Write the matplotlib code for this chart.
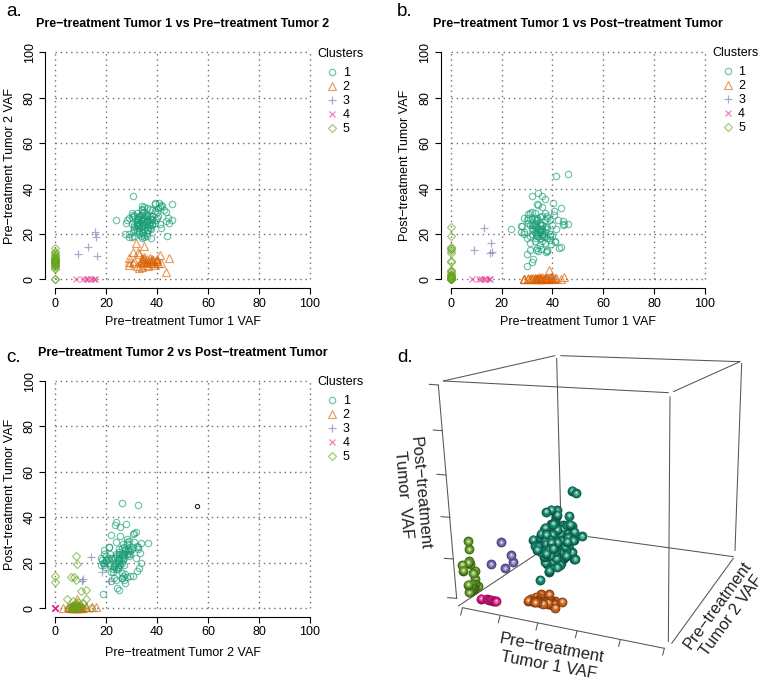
import numpy as np
import matplotlib
matplotlib.use("Agg")
import matplotlib.pyplot as plt
from matplotlib.lines import Line2D

plt.rcParams['font.family'] = ['Liberation Sans', 'DejaVu Sans']
plt.rcParams['lines.scale_dashes'] = False

# ---------- data: VAF per mutation, by cluster ----------
c1_pre1 = [46,41.5,23.8,30,32.2,32,30,32,34.5,36,37,40.3,34,34.2,36,43.3,40.5,40.7,46,30.5,44,44.2,44.5,41.5,42.5,43.5,41,27.8,28,29,27.5,29,31,39,39,42,30.5,31,32,33,34,35,37,38,39,40,36,38,30,30.5,31,29,30,31,31,32,33,33.5,34,35,36,37.5,38,38,33,33.5,34,34.5,35,35.5,36,36.5,37,33,33.5,34,34.5,35,35.5,36,36.5,37,38,39,39.5,41,40,32,32.5,33,33.5,34,35,36,37,38,32,32.5,33,34,35,36,37,35,34,36,35,34.5,36.5,37.5,33,32]
c1_pre2 = [26.3,32.6,26.1,18.8,24.2,25.2,27.5,23.5,23.8,27.8,25.3,31.5,30.8,30.6,21.8,25.5,28,33.5,33.3,36.5,19,27,25,22.5,30.5,29.5,32,25,26,20,20,18.8,19,33.5,33,32.5,21,24,29,28,32.5,32,31,30.5,30,29.5,31.5,28,29.3,28.5,28,27,24.5,22,23,21.5,20,19,18,18.5,19,22,24,26,22.5,23,23.5,24,24.5,25,25.5,26,26.5,25,26,26.5,27,27.5,28,24,23,22.5,24.5,25,26,24.5,27,27,26.5,27.5,28.5,29,29.5,28.5,27.5,26.5,24.5,23.5,24,25,25.5,26.5,24,22,21,20.5,19.5,20.5,21.5,18,21,26]
c1_post = [46.3,45.5,22,6,9,7.8,11,36.7,38,36.8,35.5,33.7,33,32.6,32,31.5,30.2,28.5,24.2,28.8,25.5,24,24.5,22,14,14.2,16.5,23.7,23.5,21,21,20,19,20,17.5,26,27,29,29.5,29,27,27.5,29,27,26,24,22,28,26,25,24,27,18,16,13,24,23,20,19,21,24,12,12.5,13,17,18,19,20,21,22,19,20,21,21,13,14,12.5,15,13.5,17,18.5,16,18,19,15.5,17,19,22,24,25,26,23,25,24,26,23,20,22,24,26,24,28,23,22,21,20,18,22,19,22,27,26.5]

c2_pre1 = [31.5,35,30.5,32.5,29,29,33,34,41,44.5,43.5,41.5,38.5,39.5,34.8,33,34,34,33.5,34.5,35,35.5,36,36.5,37,37.5,38,38.5,39,40,40.5,40,35,36,37,31,30.5,32,38,28.8]
c2_pre2 = [16,14.5,12,12,9.5,6.5,5,5.5,10.5,9.5,3.2,7,8.5,8,9,11,9.5,8.5,7.5,7,8,6.5,7.5,6,8,7,9,7,6.5,8,7,9,10,9,9.5,8,7,6,8,7.5]
c2_post = [0.5,0.3,0.4,0.4,0.2,0.3,0.6,0.5,0.5,1,0.2,0.4,4,1.2,1.2,0,0.2,0,0.3,0.2,0.5,0,0.8,0.1,0.3,0.6,0,0.2,0.7,0.2,0,0.5,0.1,0.2,0.4,0,0,0.2,0.5,0.1]

c3_pre1 = [13,9,16,15.5,16.4]
c3_pre2 = [14.2,11,18.5,21,10.3]
c3_post = [22.6,12.8,15.8,11.7,12]

c4_pre1 = [8.3,11,12,13,14,15.2,15.5]
c4_pre2 = [0,0,0,0,0,0,0]
c4_post = [0,0,0,0,0,0,0]

c5_pre2 = [0,0,8,8.5,6.3,7.5,8,10,12,4.5,12,7,9,11,8,6,7,8.5,9.5,10,7.5,6.5,8,9,7,8,10.5,14,5,6,8]
c5_post = [14.2,11.5,23,19.2,13.5,13.8,12.3,7.5,8,3.8,4,3,2.5,2,1,0.5,0,0,0.3,0,0.5,0.2,0.2,0.8,1.5,2,0.5,0.2,0,0,0]
c5_pre1 = [0]*len(c5_pre2)

stray_pre2 = [55.5]
stray_post = [45]

clusters = [
    ("1", c1_pre1, c1_pre2, c1_post),
    ("2", c2_pre1, c2_pre2, c2_post),
    ("3", c3_pre1, c3_pre2, c3_post),
    ("4", c4_pre1, c4_pre2, c4_post),
    ("5", c5_pre1, c5_pre2, c5_post),
]
ticks = [0, 20, 40, 60, 80, 100]

# ---------- style ----------
W, H = 770, 686
colors = ['#1B9E77', '#D95F02', '#7570B3', '#E7298A', '#66A61E']
markers = ['o', '^', '+', 'x', 'D']
msizes = [4.6, 5.6, 6.4, 4.6, 3.9]
ALPHA = 0.62
FS = 9.0

fig = plt.figure(figsize=(W/100, H/100), dpi=100)


def panel(x0, x100, y100, y0, xcol, ycol, title, title_xy, xlabel, ylabel, letter, letter_xy,
          leg_xy, xlab_y, ylab_x):
    xp = (x100 - x0) / 100
    yp = (y0 - y100) / 100
    l, r = x0 - 4*xp, x100 + 4*xp
    t, b = y100 - 4*yp, y0 + 4*yp
    ax = fig.add_axes([l/W, 1 - b/H, (r - l)/W, (b - t)/H])
    ax.set_xlim(-4, 104)
    ax.set_ylim(-4, 104)
    ax.patch.set_alpha(0)
    dots = [(0, (1.0, 2.75))]
    ax.hlines(ticks, 0, 100, colors='#6e6e6e', lw=1.0, linestyles=dots, zorder=1)
    ax.vlines(ticks, 0, 100, colors='#6e6e6e', lw=1.0, linestyles=dots, zorder=1)
    handles = []
    for i, cl in enumerate(clusters):
        ax.plot(cl[xcol], cl[ycol], ls='none', marker=markers[i], ms=msizes[i], mfc='none',
                mec=colors[i], mew=0.85, alpha=ALPHA, zorder=3)
        handles.append(Line2D([], [], ls='none', marker=markers[i], ms=msizes[i], mfc='none',
                              mec=colors[i], mew=0.85, alpha=ALPHA, label=cl[0]))
    for s in ('top', 'right'):
        ax.spines[s].set_visible(False)
    for s in ('left', 'bottom'):
        ax.spines[s].set_bounds(0, 100)
        ax.spines[s].set_linewidth(0.8)
    ax.set_xticks(ticks)
    ax.set_yticks(ticks)
    ax.tick_params(length=4.2, width=0.8, labelsize=FS, pad=2.5)
    for lb in ax.get_yticklabels():
        lb.set_rotation(90)
        lb.set_va('center')
    ax.set_xlabel(xlabel, fontsize=FS, va='center')
    ax.set_ylabel(ylabel, fontsize=FS, va='center')
    ax.xaxis.set_label_coords(0.5, (b - xlab_y)/(b - t))
    ax.yaxis.set_label_coords((ylab_x - l)/(r - l), 0.5)
    fig.text(title_xy[0]/W, 1 - title_xy[1]/H, title, fontsize=9.0, fontweight='bold',
             ha='center', va='center')
    fig.text(letter_xy[0]/W, 1 - letter_xy[1]/H, letter, fontsize=13.5, ha='left', va='center')
    leg = ax.legend(handles=handles, title='Clusters', loc='upper left', frameon=False,
                    bbox_to_anchor=(leg_xy[0]/W, 1 - leg_xy[1]/H), bbox_transform=fig.transFigure,
                    borderpad=0, borderaxespad=0, fontsize=FS, title_fontsize=FS,
                    handlelength=2.4, handletextpad=-0.35, labelspacing=0.16, numpoints=1)
    leg._legend_box.align = 'left'
    leg._legend_box.sep = 5
    return ax


LAB1 = 'Pre\u2212treatment Tumor 1 VAF'
LAB2 = 'Pre\u2212treatment Tumor 2 VAF'
LABP = 'Post\u2212treatment Tumor VAF'

panel(55.3, 310, 52.3, 279.3, 1, 2, 'Pre\u2212treatment Tumor 1 vs Pre\u2212treatment Tumor 2', (182.8, 24.3),
      LAB1, LAB2, 'a.', (6, 11), (317, 48), 322, 10)
panel(450.7, 705, 52.3, 279.3, 1, 3, 'Pre\u2212treatment Tumor 1 vs Post\u2212treatment Tumor', (578, 24.3),
      LAB1, LABP, 'b.', (397, 11), (712.5, 47), 322, 405.5)
axc = panel(55.3, 310, 381, 608, 2, 3, 'Pre\u2212treatment Tumor 2 vs Post\u2212treatment Tumor', (183, 353.3),
            LAB2, LABP, 'c.', (6, 357), (317, 376), 653, 10)
axc.plot(stray_pre2, stray_post, ls='none', marker='o', ms=3, mfc='none', mec='#222222', mew=0.8, zorder=4)

# ---------- panel d: perspective cube, drawn in figure pixel coordinates ----------
axd = fig.add_axes([0, 0, 1, 1])
axd.set_xlim(0, W)
axd.set_ylim(H, 0)
axd.axis('off')
axd.patch.set_alpha(0)


def zp(x, y):
    """frame position (3x crop of panel d) to figure pixels"""
    return 385 + x/3, 340 + y/3


frame = [
    [(175, 123), (510, 47)], [(527, 47), (1065, 65)], [(1065, 65), (865, 155)], [(175, 123), (850, 158)],
    [(515, 55), (527, 520)], [(1070, 70), (1050, 632)], [(855, 170), (850, 905)],
    [(220, 798), (480, 625)], [(610, 590), (1045, 650)], [(1045, 655), (860, 910)],
    [(232, 803), (838, 925)], [(160, 135), (215, 775)],
]
xtick_base = [(232, 805), (345, 828), (458, 850), (576, 873), (706, 899), (838, 925)]
ztick_base = [(160, 135), (172, 272), (183, 405), (195, 532), (205, 657), (215, 775)]
for seg in frame:
    p = [zp(*q) for q in seg]
    axd.plot([p[0][0], p[1][0]], [p[0][1], p[1][1]], color='#555555', lw=0.75, zorder=1, solid_capstyle='round')
for q in xtick_base:
    a, b = zp(*q), zp(q[0] - 5, q[1] + 20)
    axd.plot([a[0], b[0]], [a[1], b[1]], color='#555555', lw=0.75, zorder=1)
for q in ztick_base:
    a, b = zp(*q), zp(q[0] - 27, q[1] - 2)
    axd.plot([a[0], b[0]], [a[1], b[1]], color='#555555', lw=0.75, zorder=1)

corner_E = np.array(zp(212, 800)); corner_F = np.array(zp(822, 910))
corner_H = np.array(zp(520, 580)); corner_G = np.array(zp(1030, 640))
corner_A = np.array(zp(155, 125)); corner_D = np.array(zp(838, 160))
corner_B = np.array(zp(505, 47)); corner_C = np.array(zp(1050, 65))
XR, YR, ZR = (0, 100), (-10, 100), (-2, 100)


def project(x, y, z):
    u = (x - XR[0])/(XR[1] - XR[0])
    v = (y - YR[0])/(YR[1] - YR[0])
    w = (z - ZR[0])/(ZR[1] - ZR[0])
    bottom = (1-u)*(1-v)*corner_E + u*(1-v)*corner_F + (1-u)*v*corner_H + u*v*corner_G
    top = (1-u)*(1-v)*corner_A + u*(1-v)*corner_D + (1-u)*v*corner_B + u*v*corner_C
    return (1-w)*bottom + w*top


sphere_cols = ['#12876C', '#CC6118', '#6C66AC', '#DE1A84', '#639E24']
pts = []
for i, cl in enumerate(clusters):
    for x, y, z in zip(cl[1], cl[2], cl[3]):
        pts.append((x, y, z, i))
pts.sort(key=lambda p: (-p[1], p[0]))
for k, (x, y, z, i) in enumerate(pts):
    px, py = project(x, y, z)
    base = np.array(matplotlib.colors.to_rgb(sphere_cols[i]))
    zo = 5 + k*0.01
    axd.scatter([px], [py], s=50, color=[base*0.6], linewidths=0, zorder=zo)
    axd.scatter([px], [py-0.3], s=34, color=[base*0.95], linewidths=0, zorder=zo+0.001)
    axd.scatter([px], [py-0.5], s=10, color=[base*0.6 + 0.4], linewidths=0, zorder=zo+0.002)
    axd.scatter([px], [py-0.7], s=1.5, color=['#ffffff'], linewidths=0, alpha=0.7, zorder=zo+0.003)

fig.text(397/W, 1 - 357/H, 'd.', fontsize=13.5, ha='left', va='center')
cx, cy = zp(495, 950)
axd.text(cx, cy, 'Pre\u2212treatment\nTumor 1 VAF', fontsize=12, rotation=-10.5, ha='center', va='center',
         rotation_mode='anchor', linespacing=1.2, color='#222222')
cx, cy = zp(1018, 812)
axd.text(cx, cy, 'Pre\u2212treatment\nTumor 2 VAF', fontsize=11.8, rotation=54, ha='center', va='center',
         rotation_mode='anchor', linespacing=1.2, color='#222222')
cx, cy = zp(80, 462)
axd.text(cx, cy, 'Post\u2212treatment\nTumor  VAF', fontsize=12, rotation=-85, ha='center', va='center',
         rotation_mode='anchor', linespacing=1.2, color='#222222')

fig.savefig('out.png', dpi=100)
